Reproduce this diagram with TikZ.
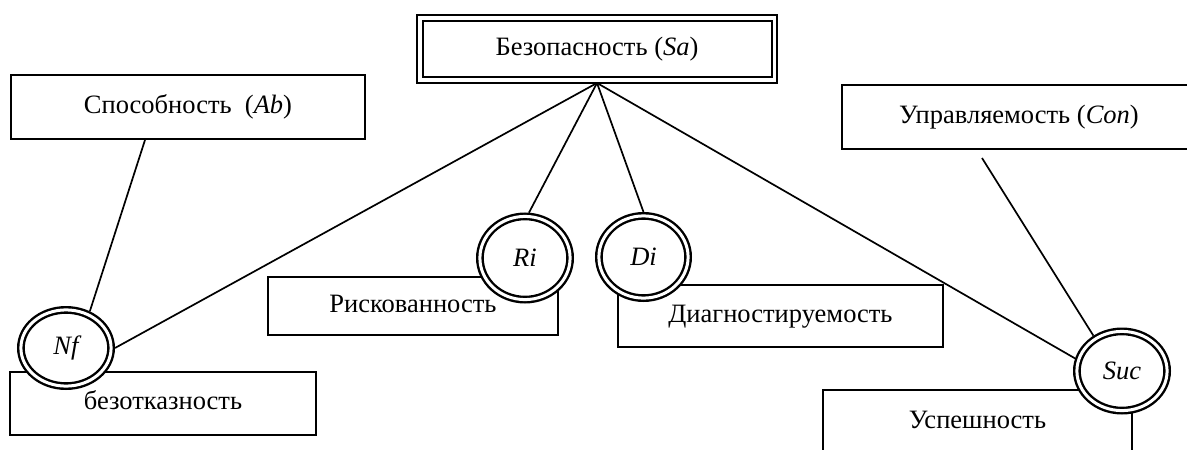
\documentclass[tikz,border=0pt]{standalone}
\usepackage{fontspec}
\setmainfont{Liberation Serif}
\usetikzlibrary{shapes.geometric,calc}
\begin{document}
\begin{tikzpicture}[x=1pt,y=-1pt,
  txt/.style={font=\fontsize{26.5}{30}\selectfont},
  box/.style={txt, draw, line width=2pt, inner sep=0pt, text height=18pt, text depth=6pt},
  circ/.style={font=\fontsize{26.5}{30}\selectfont\itshape, ellipse, draw, double, line width=2.4pt,
    double distance=3pt, fill=white, inner sep=0pt, outer sep=3.9pt},
  link/.style={line width=1.7pt}]
\useasboundingbox (0,0) rectangle (1187,450);
\clip (0,0) rectangle (1187,450);
\fill[white] (0,0) rectangle (1187,450);

% boxes
\node[box, line width=2.6pt, outer sep=0pt, minimum width=360pt, minimum height=68pt] (Sa) at (597,49) {Безопасность (\textit{Sa})};
\draw[line width=2pt] ([xshift=5.5pt,yshift=-5.8pt]Sa.north west) rectangle ([xshift=-5.5pt,yshift=5.8pt]Sa.south east);
\node[box, minimum width=354pt, minimum height=64pt] (Ab) at (188,107) {Способность\ \ (\textit{Ab})};
\node[box, minimum width=354pt, minimum height=64pt] (Con) at (1019,117) {Управляемость (\textit{Con})};
\node[box, minimum width=290pt, minimum height=58pt] (Risk) at (413,306) {Рискованность};
\node[box, minimum width=325pt, minimum height=62pt] (Diag) at (780.5,316) {Диагностируемость};
\node[box, minimum width=306pt, minimum height=63pt] (Bez) at (163,403.5) {безотказность};
\node[box, minimum width=309pt, minimum height=64pt] (Usp) at (977.5,422) {Успешность};

% circle centres
\path (66,348) coordinate (cNf) (525,258) coordinate (cRi) (643.5,257) coordinate (cDi) (1122,371) coordinate (cSuc);
% circles drawn on top of the boxes
\node[circ, minimum width=90.2pt, minimum height=76.2pt] (Nf) at (cNf) {Nf};
\node[circ, minimum width=90.2pt, minimum height=83.2pt] (Ri) at (cRi) {Ri};
\node[circ, minimum width=89.2pt, minimum height=82.2pt] (Di) at (cDi) {Di};
\node[circ, minimum width=90.2pt, minimum height=79.2pt] (Suc) at (cSuc) {Suc};

% links
\coordinate (conend) at ([xshift=-37pt,yshift=-8pt]Con.south);
\draw[link] (Sa.south) -- (Nf.0);
\draw[link] (Sa.south) -- (Ri.85);
\draw[link] (Sa.south) -- (Di.90);
\draw[link] (Sa.south) -- (Suc.165);
\draw[link] ([xshift=-43pt]Ab.south) -- (Nf.57);
\draw[link] (conend) -- (Suc.129);
\end{tikzpicture}
\end{document}
